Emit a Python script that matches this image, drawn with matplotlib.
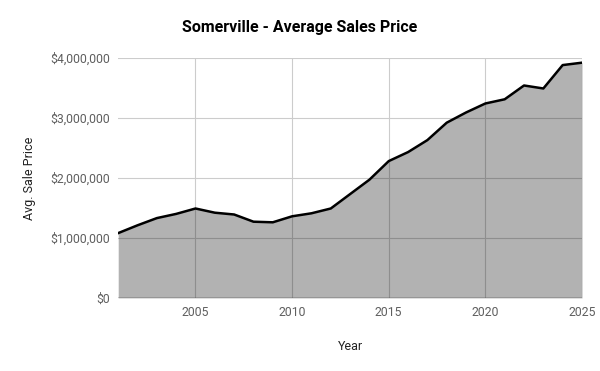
import matplotlib.pyplot as plt
from matplotlib.ticker import FuncFormatter

years = list(range(2001, 2026))
avg_price = [1080000, 1210000, 1330000, 1400000, 1490000, 1420000, 1390000, 1270000,
             1260000, 1360000, 1410000, 1490000, 1730000, 1970000, 2280000, 2430000,
             2630000, 2920000, 3090000, 3240000, 3310000, 3540000, 3490000, 3880000, 3920000]
x_ticks = [2005, 2010, 2015, 2020, 2025]
y_ticks = [0, 1000000, 2000000, 3000000, 4000000]

plt.rcParams['font.family'] = ['Roboto', 'DejaVu Sans']

fig = plt.figure(figsize=(6, 3.71), dpi=100)
ax = fig.add_axes([0.197, 0.197, 0.773, 0.647])

ax.grid(True, color="#cccccc", linewidth=0.8)
ax.set_axisbelow(True)
ax.fill_between(years, avg_price, 0, color="black", alpha=0.3, linewidth=0, zorder=2)
ax.plot(years, avg_price, color="black", linewidth=1.8, zorder=3)
ax.axhline(0, color="#333333", linewidth=1, zorder=4)

ax.set_xlim(2001, 2025)
ax.set_ylim(0, 4000000)
ax.set_xticks(x_ticks)
ax.set_yticks(y_ticks)
ax.yaxis.set_major_formatter(FuncFormatter(lambda v, p: f"${v:,.0f}"))
ax.tick_params(length=0, labelsize=8.8, labelcolor="#5f5f5f", pad=6)
for s in ax.spines.values():
    s.set_visible(False)

ax.set_xlabel("Year", fontsize=9, color="#222222", labelpad=15)
ax.set_ylabel("Avg. Sale Price", fontsize=9, color="#222222")
ax.yaxis.set_label_coords(-0.177, 0.5)
fig.suptitle("Somerville - Average Sales Price", x=0.5, y=0.945, fontsize=11.5,
             fontweight="bold", color="#000000")

fig.savefig("out.png", dpi=100)
